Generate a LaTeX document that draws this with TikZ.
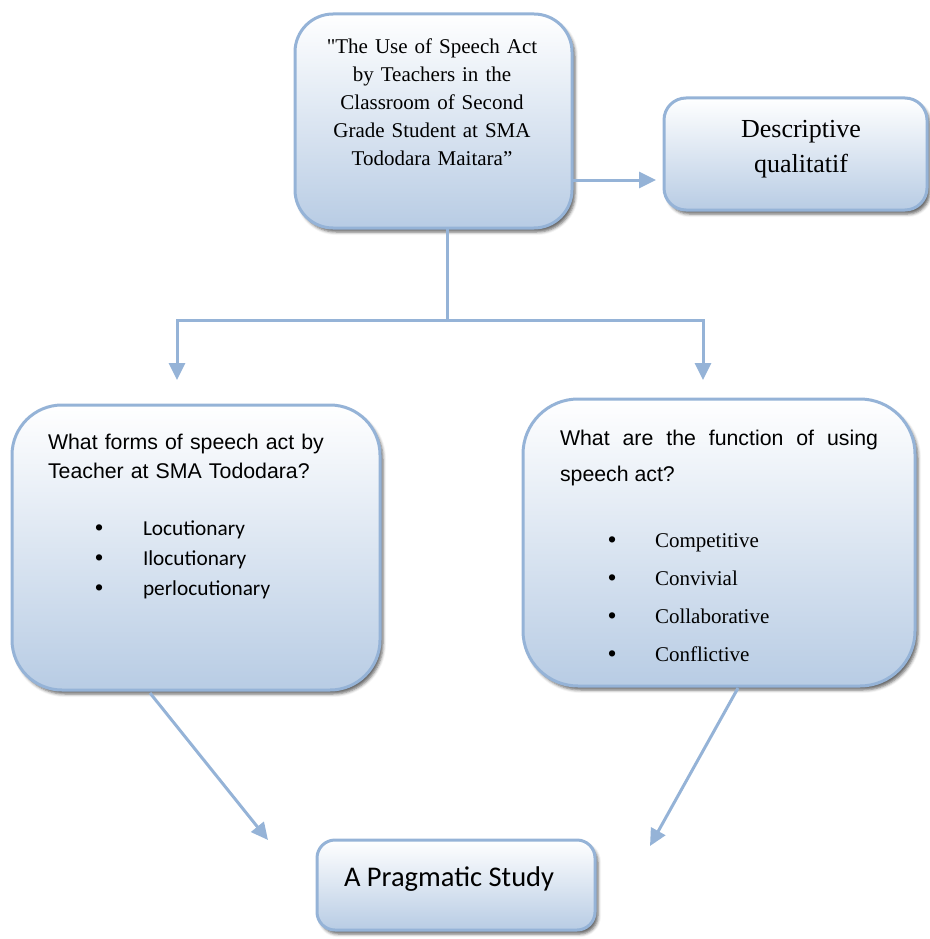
\documentclass[tikz,border=0pt]{standalone}
\usepackage{fontspec}
\setmainfont{Liberation Serif}[Ligatures=TeXOff]
\newfontfamily\arialf{Liberation Sans}
\newfontfamily\calib{Carlito}
\usetikzlibrary{shadows.blur,arrows.meta}
\definecolor{bordc}{RGB}{149,179,215}
\definecolor{fillb}{RGB}{184,204,228}
\definecolor{linec}{RGB}{149,179,215}
\tikzset{
  box/.style={draw=bordc, line width=3pt, rounded corners=#1,
    top color=white, middle color=fillb!35!white, bottom color=fillb,
    blur shadow={shadow xshift=3pt, shadow yshift=-4pt, shadow opacity=60, shadow blur radius=3pt},
    inner sep=0pt, outer sep=0pt},
  conn/.style={draw=linec, line width=3pt},
  arr/.style={conn, -{Triangle[length=17pt,width=16pt]}},
  txt/.style={inner sep=0pt, outer sep=0pt},
}
\newcommand{\bulA}{\makebox[48pt][l]{\arialf\fontsize{23}{30}\selectfont •}}
\newcommand{\bulB}{\makebox[47pt][l]{\arialf\fontsize{23}{38}\selectfont •}}
\begin{document}
\begin{tikzpicture}[x=1pt,y=-1pt]
\useasboundingbox (0,0) rectangle (929,939);

% boxes
\node[box=38pt, minimum width=277pt, minimum height=214pt] (top) at (433.5,121) {};
\node[box=22pt, minimum width=263pt, minimum height=112pt] (desc) at (795.5,154) {};
\node[box=50pt, minimum width=368pt, minimum height=285pt] (left) at (196,547.5) {};
\node[box=55pt, minimum width=392pt, minimum height=287pt] (right) at (719,542.5) {};
\node[box=18pt, minimum width=278pt, minimum height=90pt] (bottom) at (456,885) {};

% texts
\node[txt, anchor=base, text width=270pt, align=center, font=\fontsize{21}{28}\selectfont] (toptxt) at (432,54)
  {"The Use of Speech Act\\ by Teachers in the\\ Classroom of Second\\ Grade Student at SMA\\ Tododara Maitara”};
\node[txt, anchor=base, text width=240pt, align=center, font=\fontsize{26}{35}\selectfont] (desctxt) at (801,138)
  {Descriptive\\ qualitatif};

\node[txt, anchor=base west, text width=320pt, align=left, font=\arialf\fontsize{21.3}{29}\selectfont] (lefthead) at (48,449)
  {What forms of speech act by\\ Teacher at SMA Tododara?};
\node[txt, anchor=base west, text width=240pt, align=left, font=\calib\fontsize{21.3}{30}\selectfont] (leftlist) at (95,535)
  {\bulA Locutionary\\ \bulA Ilocutionary\\ \bulA perlocutionary};

\node[txt, anchor=base west, text width=318pt, align=justify, font=\arialf\fontsize{21.3}{36}\selectfont] (righthead) at (560,445)
  {What are the function of using\linebreak speech act?};
\node[txt, anchor=base west, text width=240pt, align=left, font=\fontsize{21}{38}\selectfont] (rightlist) at (608,547)
  {\bulB Competitive\\ \bulB Convivial\\ \bulB Collaborative\\ \bulB Conflictive};

\node[txt, anchor=base west, font=\calib\fontsize{28.5}{32}\selectfont] (bottomtxt) at (344,886) {A Pragmatic Study};

% connectors
\coordinate (a1) at (top.east |- 0,180);
\coordinate (a1e) at (656,180);
\draw[arr] (a1) -- (a1e);

\coordinate (t0) at (447,0 |- top.south);
\coordinate (j) at (447,320);
\coordinate (la) at (177,380);
\coordinate (ra) at (703,380);
\draw[conn] (t0) -- (j);
\draw[arr] (j) -| (la);
\draw[arr] (j) -| (ra);

\coordinate (ls) at (150,693);
\coordinate (le) at (268,840);
\coordinate (rs) at (738,688);
\coordinate (re) at (650,846);
\draw[arr] (ls) -- (le);
\draw[arr] (rs) -- (re);
\end{tikzpicture}
\end{document}
